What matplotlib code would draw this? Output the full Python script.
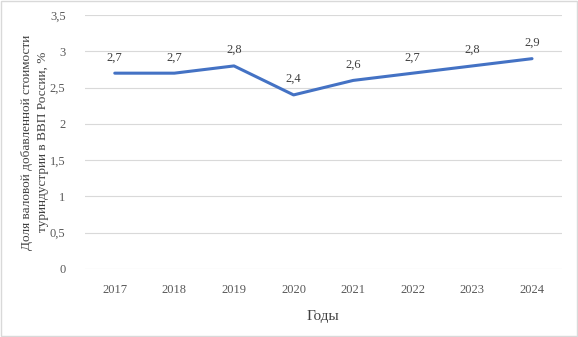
import numpy as np
import matplotlib.pyplot as plt
from matplotlib.patches import Rectangle

years = ['2017', '2018', '2019', '2020', '2021', '2022', '2023', '2024']
share = [2.7, 2.7, 2.8, 2.4, 2.6, 2.7, 2.8, 2.9]
yticks = [0, 0.5, 1, 1.5, 2, 2.5, 3, 3.5]

plt.rcParams['font.family'] = ['Liberation Serif', 'DejaVu Serif']

fig = plt.figure(figsize=(5.78, 3.37), dpi=100)
ax = fig.add_axes([0.147, 0.202, 0.825, 0.753])

x = np.arange(len(years))
ax.plot(x, share, color='#4472C4', lw=2.2, solid_capstyle='round')

for xi, v in zip(x, share):
    ax.annotate(f'{v:.1f}'.replace('.', ','), (xi, v), xytext=(0, 7),
                textcoords='offset points', ha='center', va='bottom',
                fontsize=9, color='#404040')

ax.set_xlim(-0.5, len(years) - 0.5)
ax.set_ylim(0, 3.5)
ax.set_yticks(yticks)
ax.set_yticklabels([f'{t:g}'.replace('.', ',') for t in yticks])
ax.set_xticks(x)
ax.set_xticklabels(years)
ax.grid(axis='y', color='#d9d9d9', lw=0.8)
ax.set_axisbelow(True)
for s in ax.spines.values():
    s.set_visible(False)
ax.tick_params(length=0, labelsize=9, colors='#595959')
ax.tick_params(axis='x', pad=11)
ax.tick_params(axis='y', pad=14)

ax.set_xlabel('Годы', fontsize=11, color='#404040', labelpad=10)
ax.set_ylabel('Доля валовой добавленной стоимости\nтуриндустрии в ВВП России, %',
              fontsize=9.5, color='#404040', labelpad=0.5, linespacing=1.45)

fig.patches.append(Rectangle((0.001, 0.002), 0.997, 0.995, transform=fig.transFigure,
                             fill=False, edgecolor='#d9d9d9', lw=1))

fig.savefig('out.png', dpi=100)
